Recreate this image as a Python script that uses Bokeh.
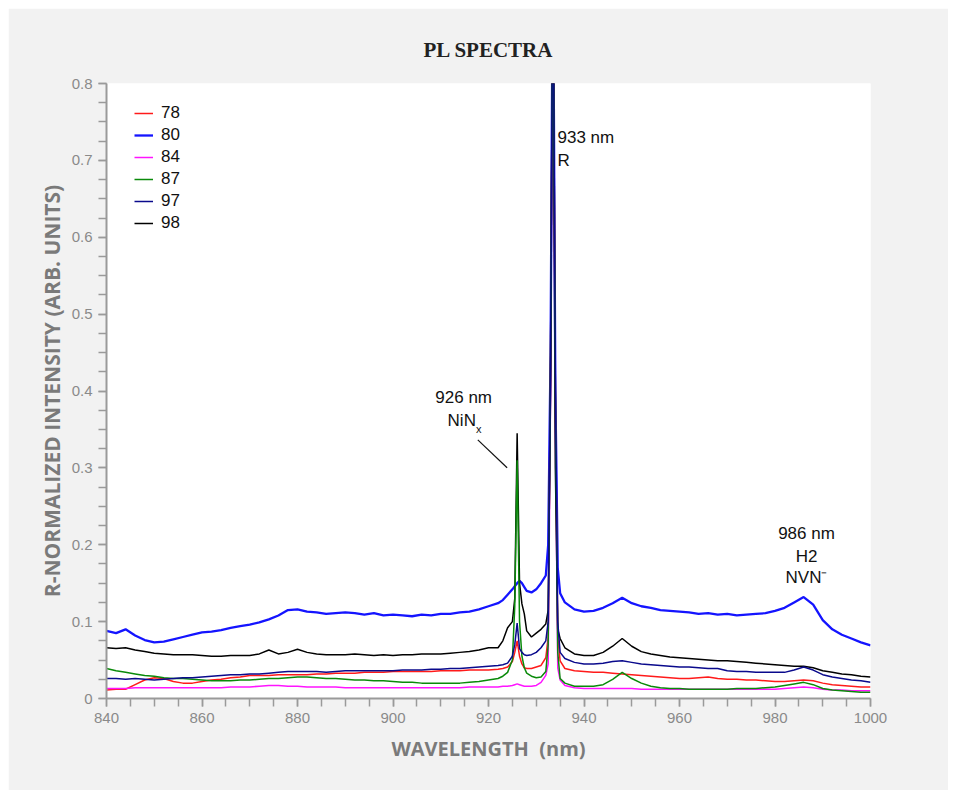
from bokeh.plotting import figure
from bokeh.models import Legend, LegendItem, Label, Range1d, FixedTicker, CustomJSTickFormatter, ColumnDataSource
from bokeh.embed import file_html
from bokeh.resources import INLINE

# ---------------- data ----------------
wl_a = [840, 842, 844, 846, 848, 850, 852, 854, 856, 858, 860, 862, 864, 866, 868, 870, 872, 874, 876, 878,
        880, 882, 884, 886, 888, 890, 892, 894, 896, 898, 900, 902, 904, 906, 908, 910, 912, 914, 916, 918, 920]
wl_b = [922, 923, 924, 925, 925.5, 926, 926.5, 927, 927.5, 928, 929, 930, 931, 932, 932.5, 933, 933.5, 934,
        934.5, 935, 936, 938]
wl_c = [940, 942, 944, 946, 948, 950, 952, 954, 956, 958, 960, 962, 964, 966, 968, 970, 972, 974, 976, 978,
        980, 982, 984, 986, 988, 990, 992, 994, 996, 998, 1000]
wavelength = wl_a + wl_b + wl_c

s78 = [.011, .012, .012, .018, .024, .027, .026, .022, .020, .020, .022, .024, .025, .027, .028, .030, .030, .030, .031, .031,
       .031, .031, .032, .032, .033, .033, .033, .034, .034, .034, .035, .035, .035, .035, .035, .036, .036, .036, .037, .037, .037] + \
      [.038, .039, .041, .048, .060, .075, .055, .045, .040, .039, .039, .041, .043, .053, .080, .45, 1.0, .40,
       .08, .049, .039, .036] + \
      [.035, .034, .034, .033, .032, .031, .030, .029, .028, .027, .026, .026, .027, .028, .026, .025, .025, .024, .024, .023,
       .022, .022, .023, .024, .023, .020, .018, .017, .016, .015, .015]

s80 = [.088, .085, .090, .082, .076, .073, .074, .077, .080, .083, .086, .087, .089, .092, .094, .096, .099, .103, .108, .115,
       .116, .113, .112, .110, .111, .112, .111, .109, .111, .108, .109, .108, .107, .109, .108, .110, .110, .112, .113, .116, .120] + \
      [.124, .128, .135, .142, .146, .150, .153, .150, .145, .140, .138, .142, .150, .160, .20, .45, 1.0, .40,
       .17, .137, .125, .116] + \
      [.113, .114, .118, .124, .131, .124, .120, .118, .115, .114, .113, .112, .110, .111, .109, .110, .108, .109, .110, .111,
       .114, .118, .125, .132, .122, .102, .090, .083, .078, .073, .069]

s84 = [.013, .013, .013, .014, .014, .014, .014, .014, .014, .014, .014, .014, .014, .015, .015, .015, .016, .017, .017, .016,
       .016, .015, .015, .015, .015, .014, .014, .014, .014, .014, .014, .014, .014, .014, .014, .014, .014, .014, .015, .015, .015] + \
      [.015, .016, .016, .017, .018, .019, .018, .017, .016, .016, .016, .017, .021, .030, .045, .40, 1.0, .35,
       .04, .024, .017, .014] + \
      [.013, .013, .013, .013, .013, .013, .012, .012, .012, .012, .012, .012, .012, .012, .012, .012, .012, .012, .012, .012,
       .012, .013, .014, .015, .014, .012, .011, .011, .010, .010, .010]

s87 = [.039, .036, .034, .032, .030, .029, .027, .026, .026, .025, .024, .023, .023, .023, .024, .024, .025, .026, .026, .027,
       .028, .028, .027, .026, .026, .025, .024, .024, .023, .023, .022, .021, .021, .020, .020, .020, .020, .020, .021, .022, .024] + \
      [.026, .029, .034, .050, .12, .31, .10, .055, .040, .033, .029, .027, .028, .035, .07, .45, 1.0, .40,
       .06, .026, .020, .016] + \
      [.016, .016, .018, .025, .034, .026, .020, .016, .014, .013, .013, .012, .012, .012, .012, .012, .013, .013, .013, .014,
       .015, .017, .019, .021, .018, .013, .011, .010, .009, .008, .008]

s97 = [.026, .026, .025, .026, .025, .024, .025, .026, .027, .027, .028, .029, .030, .031, .031, .032, .032, .033, .034, .035,
       .035, .035, .035, .034, .035, .036, .036, .036, .036, .036, .036, .037, .037, .037, .038, .038, .039, .039, .040, .041, .042] + \
      [.043, .044, .046, .055, .070, .098, .065, .060, .057, .056, .057, .060, .066, .075, .10, .45, 1.0, .42,
       .10, .060, .052, .047] + \
      [.045, .045, .046, .048, .049, .047, .045, .044, .043, .042, .041, .041, .040, .039, .039, .036, .035, .035, .034, .034,
       .034, .034, .037, .041, .037, .031, .028, .026, .024, .023, .021]

s98 = [.066, .065, .066, .063, .061, .059, .058, .057, .057, .057, .056, .055, .055, .056, .056, .056, .058, .063, .058, .060,
       .064, .060, .058, .057, .057, .057, .058, .057, .056, .057, .056, .057, .057, .058, .058, .058, .059, .060, .061, .063, .066] + \
      [.066, .075, .092, .100, .130, .345, .150, .123, .110, .088, .080, .085, .090, .097, .115, .40, 1.0, .30,
       .09, .078, .066, .058] + \
      [.056, .056, .060, .068, .078, .068, .061, .058, .056, .054, .053, .052, .051, .050, .049, .049, .048, .047, .046, .045,
       .044, .043, .042, .042, .040, .036, .034, .032, .031, .029, .028]

series_names = ["78", "80", "84", "87", "97", "98"]
series_values = [s78, s80, s84, s87, s97, s98]
series_colors = ["#ff1a1a", "#1414ff", "#ff14ff", "#0a8a0a", "#0a0a8c", "#000000"]
series_widths = [1.5, 2.3, 1.5, 1.5, 1.5, 1.5]
draw_order = ["80", "78", "84", "98", "87", "97"]

y_ticks = [0, 0.1, 0.2, 0.3, 0.4, 0.5, 0.6, 0.7, 0.8]
y_minor = [i * 0.025 for i in range(33)]
x_ticks = [840, 860, 880, 900, 920, 940, 960, 980, 1000]
x_minor = list(range(840, 1001, 5))

# ---------------- figure ----------------
p = figure(width=940, height=782, output_backend="svg", toolbar_location=None,
           x_range=Range1d(840, 1000), y_range=Range1d(0, 0.8),
           min_border_left=98, min_border_right=78, min_border_top=75, min_border_bottom=92,
           margin=(8, 8, 8, 8), title="PL SPECTRA")
p.title.align = "center"
p.title.text_font = "Liberation Serif"
p.title.text_font_style = "bold"
p.title.text_font_size = "21px"
p.title.text_color = "#222222"
p.title.standoff = 43
p.background_fill_color = "white"
p.border_fill_color = "#f2f2f2"
p.outline_line_color = None
p.xgrid.visible = False
p.ygrid.visible = False

renderers = {}
for name in draw_order:
    i = series_names.index(name)
    renderers[name] = p.line(wavelength, series_values[i], line_color=series_colors[i],
                             line_width=series_widths[i])

for ax in (p.xaxis[0], p.yaxis[0]):
    ax.axis_line_color = "#9a9a9a"
    ax.axis_line_width = 2
    ax.major_tick_line_color = "#9a9a9a"
    ax.minor_tick_line_color = "#9a9a9a"
    ax.major_tick_line_width = 1.5
    ax.minor_tick_line_width = 1.5
    ax.major_tick_in = 0
    ax.major_tick_out = 8
    ax.minor_tick_in = 0
    ax.minor_tick_out = 8
    ax.major_label_text_color = "#8a8a8a"
    ax.major_label_text_font = "Liberation Sans"
    ax.major_label_text_font_size = "15px"
    ax.axis_label_text_color = "#7a7a7a"
    ax.axis_label_text_font = "Open Sans"
    ax.axis_label_text_font_style = "bold"

p.xaxis.ticker = FixedTicker(ticks=x_ticks, minor_ticks=x_minor)
p.yaxis.ticker = FixedTicker(ticks=y_ticks, minor_ticks=y_minor)
p.yaxis.formatter = CustomJSTickFormatter(code="return Math.abs(tick) < 1e-9 ? '0' : tick.toFixed(1);")
p.xaxis.major_label_standoff = 6
p.yaxis.major_label_standoff = 6
p.xaxis.axis_label = "WAVELENGTH\u00a0\u00a0(nm)"
p.xaxis.axis_label_text_font_size = "20px"
p.xaxis.axis_label_standoff = 9
p.yaxis.axis_label = "R-NORMALIZED INTENSITY (ARB. UNITS)"
p.yaxis.axis_label_text_font_size = "21px"
p.yaxis.axis_label_standoff = 3

legend = Legend(items=[LegendItem(label=n, renderers=[renderers[n]]) for n in series_names],
                location=(28, 465), border_line_color=None, background_fill_alpha=0,
                label_text_font="Liberation Sans", label_text_font_size="17px", label_text_color="#111111",
                glyph_width=19, glyph_height=20, label_height=20, spacing=2, padding=0, label_standoff=8)
p.add_layout(legend)

# ---------------- annotations ----------------
def lab(x, y, text, size="17px", align="left", baseline="middle"):
    p.add_layout(Label(x=x, y=y, text=text, text_font="Liberation Sans", text_font_size=size,
                       text_align=align, text_baseline=baseline, text_color="#111111"))

lab(934.45, 0.730, "933 nm")
lab(934.45, 0.700, "R")
lab(914.8, 0.3916, "926 nm", align="center")
lab(914.4, 0.3616, "NiN", align="center")
lab(917.4, 0.3500, "x", size="11px")
lab(986.6, 0.2146, "986 nm", align="center")
lab(986.6, 0.1847, "H2", align="center")
lab(986.6, 0.1574, "NVN⁻", align="center")

seg = ColumnDataSource(dict(x0=[917.76], y0=[0.3365], x1=[923.9], y1=[0.3001]))
p.segment(x0="x0", y0="y0", x1="x1", y1="y1", source=seg, line_color="#111111", line_width=1.2)

open("out.html", "w").write(file_html(p, INLINE))
